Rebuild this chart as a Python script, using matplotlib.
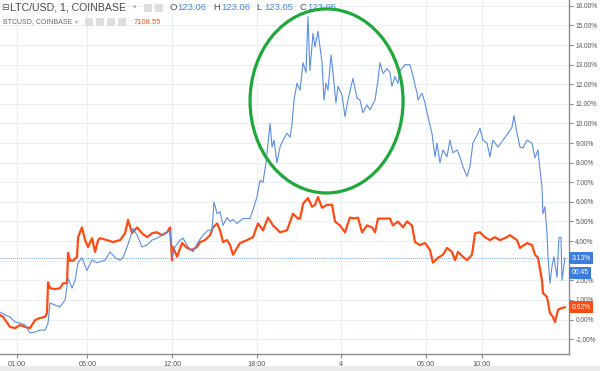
import matplotlib.pyplot as plt
from matplotlib.patches import Ellipse, Rectangle, FancyBboxPatch

# LTC/USD (blue) - % change vs. hours since midnight of day 3
ltc_hours = [
    -0.21, 0.15, 0.50, 0.86, 1.21, 1.57, 1.92, 2.28, 2.63, 2.99,
    3.20, 3.34, 3.70, 4.05, 4.41, 4.62, 4.90, 5.12, 5.33, 5.61,
    5.96, 6.32, 6.68, 6.89, 7.25, 7.60, 7.96, 8.31, 8.52, 8.81,
    9.02, 9.23, 9.52, 9.87, 10.23, 10.58, 10.94, 11.29, 11.65, 11.86,
    12.00, 12.21, 12.57, 12.78, 13.14, 13.49, 13.85, 14.20, 14.55, 14.84,
    14.98, 15.20, 15.41, 15.62, 15.90, 16.12, 16.33, 16.61, 17.04, 17.54,
    17.75, 18.03, 18.25, 18.46, 18.67, 18.89, 18.96, 19.10, 19.24, 19.45,
    19.67, 19.88, 20.16, 20.38, 20.52, 20.66, 20.87, 21.09, 21.30, 21.51,
    21.65, 21.79, 22.01, 22.15, 22.36, 22.65, 22.79, 22.93, 23.07, 23.29,
    23.43, 23.64, 23.78, 24.07, 24.28, 24.49, 24.84, 25.13, 25.34, 25.55,
    25.84, 26.05, 26.41, 26.62, 26.76, 26.98, 27.26, 27.47, 27.61, 27.82,
    28.04, 28.18, 28.54, 28.89, 29.11, 29.39, 29.46, 29.74, 29.96, 30.17,
    30.45, 30.67, 30.81, 31.02, 31.23, 31.52, 31.73, 31.94, 32.23, 32.44,
    32.65, 32.94, 33.15, 33.36, 33.65, 33.86, 34.07, 34.36, 34.57, 34.78,
    35.14, 35.49, 35.85, 36.13, 36.27, 36.49, 36.70, 36.91, 37.20, 37.55,
    37.77, 37.98, 38.12, 38.26, 38.33, 38.47, 38.62, 38.69, 38.83, 38.97,
    39.11, 39.33, 39.47, 39.61, 39.68, 39.89,
]
ltc_pct = [
    0.38, 0.23, 0.13, -0.13, -0.18, -0.28, -0.69, -0.64, -0.54, -0.54,
    -0.18, 0.84, 0.74, 0.64, 1.0, 2.1, 1.6, 2.0, 2.9, 3.15,
    2.5, 3.03, 2.9, 2.95, 3.03, 3.45, 3.15, 3.03, 3.15, 3.7,
    4.15, 4.65, 4.3, 3.7, 3.8, 4.05, 4.15, 4.3, 4.45, 4.55,
    3.2, 3.7, 4.05, 4.15, 3.7, 3.45, 3.95, 4.3, 4.55, 4.55,
    6.0, 5.4, 5.5, 4.8, 5.2, 5.0, 5.1, 4.9, 5.15, 5.15,
    5.6, 6.25, 7.1, 7.0, 8.0, 9.5, 10.0, 8.8, 9.15, 8.0,
    8.8, 9.15, 9.5, 9.3, 10.0, 11.2, 12.05, 11.7, 13.1, 12.6,
    15.45, 12.7, 14.6, 13.9, 14.7, 13.1, 11.2, 12.05, 11.7, 13.5,
    12.55, 11.05, 11.9, 11.45, 10.35, 11.2, 12.3, 11.3, 11.2, 10.55,
    10.95, 10.7, 11.2, 12.2, 13.1, 12.55, 12.8, 12.6, 11.9, 12.4,
    12.05, 12.7, 13.0, 13.0, 12.4, 11.55, 11.2, 11.55, 11.05, 10.35,
    9.5, 8.3, 9.0, 8.0, 8.65, 8.3, 9.15, 8.5, 8.65, 8.3,
    7.8, 7.3, 7.8, 9.0, 9.4, 9.75, 9.15, 9.0, 8.3, 9.15,
    8.8, 9.15, 9.5, 9.8, 10.4, 9.5, 8.8, 8.75, 9.15, 9.0,
    8.25, 8.65, 7.65, 6.8, 5.4, 5.75, 4.4, 3.2, 1.85, 2.7,
    3.2, 2.15, 4.2, 4.2, 2.0, 3.13,
]

# BTCUSD (red) - % change
btc_hours = [
    -0.21, 0.01, 0.50, 0.86, 1.21, 1.57, 1.92, 2.28, 2.63, 2.99,
    3.13, 3.20, 3.34, 3.70, 4.05, 4.27, 4.55, 4.62, 4.76, 4.98,
    5.26, 5.33, 5.61, 5.83, 6.04, 6.32, 6.54, 6.75, 6.89, 7.39,
    7.81, 8.31, 8.67, 8.88, 9.16, 9.52, 9.87, 10.23, 10.58, 10.94,
    11.29, 11.65, 11.86, 12.00, 12.07, 12.36, 12.71, 13.07, 13.42, 13.78,
    13.99, 14.34, 14.70, 14.91, 15.20, 15.41, 15.62, 15.90, 16.12, 16.33,
    16.61, 16.83, 17.32, 17.75, 18.10, 18.46, 18.81, 19.17, 19.67, 20.16,
    20.59, 20.94, 21.09, 21.30, 21.65, 21.94, 22.15, 22.36, 22.65, 23.00,
    23.36, 23.57, 23.92, 24.28, 24.63, 24.99, 25.20, 25.49, 25.84, 26.20,
    26.41, 26.62, 27.12, 27.47, 27.68, 28.04, 28.39, 28.68, 29.03, 29.25,
    29.60, 29.96, 30.31, 30.52, 30.88, 31.23, 31.52, 31.87, 32.09, 32.30,
    32.65, 32.94, 33.29, 33.51, 33.86, 34.21, 34.57, 34.92, 35.28, 35.63,
    35.99, 36.49, 36.70, 37.20, 37.55, 37.77, 37.98, 38.26, 38.33, 38.62,
    38.83, 39.04, 39.18, 39.40, 39.68, 39.89,
]
btc_pct = [
    0.23, 0.13, -0.38, -0.44, -0.28, -0.38, -0.44, -0.03, 0.08, 0.13,
    0.33, 1.9, 1.6, 1.55, 1.6, 1.85, 1.85, 3.4, 3.0, 3.0,
    3.2, 4.2, 4.7, 4.05, 3.7, 4.15, 3.45, 4.05, 4.15, 4.05,
    3.95, 4.05, 4.4, 5.08, 4.4, 4.7, 4.4, 4.2, 4.4, 4.45,
    4.3, 4.45, 4.7, 3.03, 3.7, 3.2, 3.9, 3.65, 3.55, 3.7,
    3.95, 4.05, 4.3, 4.7, 4.9, 4.55, 3.95, 4.05, 3.8, 3.3,
    3.65, 3.9, 4.05, 4.2, 4.9, 4.55, 5.2, 4.8, 4.45, 4.55,
    5.4, 5.15, 5.15, 5.9, 6.2, 5.75, 5.85, 6.25, 5.7, 5.85,
    5.85, 5.0, 4.8, 4.45, 5.2, 5.15, 5.2, 4.45, 4.8, 4.7,
    4.45, 5.15, 5.15, 5.15, 4.8, 5.0, 4.7, 5.0, 4.8, 3.95,
    3.8, 3.9, 3.55, 2.9, 3.15, 3.3, 3.65, 3.45, 3.03, 3.45,
    3.2, 3.03, 3.3, 4.4, 4.45, 4.2, 4.05, 4.2, 4.05, 4.15,
    4.3, 4.05, 3.65, 3.9, 3.8, 3.3, 3.15, 2.0, 1.35, 1.15,
    0.33, 0.13, -0.13, 0.5, 0.59, 0.62,
]

tick_hours = [1, 6, 12, 18, 24, 30, 34]
tick_labels = ["01:00", "06:00", "12:00", "18:00", "4", "06:00", "10:00"]
pct_ticks = list(range(-1, 17))
ltc_last = 3.13
btc_last = 0.62

BLUE = "#5a8de4"
RED = "#ff4a12"
FONT = ["Liberation Sans", "DejaVu Sans"]
plt.rcParams["font.family"] = FONT

fig = plt.figure(figsize=(6, 3.71), dpi=100)
ax = fig.add_axes([0, 1 - 354 / 371, 569 / 600, 354 / 371])

# grid
for h in tick_hours:
    ax.axvline(h, color="#eaeff5", lw=0.8, zorder=0)
for p in pct_ticks:
    ax.axhline(p, color="#eaeff5", lw=0.8, zorder=0)

# series
ax.plot(btc_hours, btc_pct, color=RED, lw=1.6, zorder=2)
ax.plot(ltc_hours, ltc_pct, color=BLUE, lw=0.8, zorder=3)
ax.axhline(ltc_last, color="#4a7fd9", lw=0.6, ls=(0, (1, 1.5)), zorder=1)

# green circle annotation
ax.add_patch(Ellipse((22.97, 11.15), 10.86, 9.39, fill=False,
                     edgecolor="#1fa83a", lw=2.3, zorder=6))

ax.set_xlim(-0.21, 40.18)
ax.set_ylim(-1.76, 16.30)

ax.set_xticks(tick_hours)
ax.set_xticklabels(tick_labels)
ax.set_yticks(pct_ticks)
# the 3.00% label sits under the last-price box, as on the reference
ax.set_yticklabels(["" if p == 3 else "%.2f%%" % p for p in pct_ticks])
ax.yaxis.tick_right()
ax.tick_params(axis="both", colors="#8c8c8c", labelcolor="#555555",
               length=3, width=0.8, pad=1.5)
ax.tick_params(axis="y", labelsize=4.7)
ax.tick_params(axis="x", labelsize=5.2, pad=2)

for side in ["top", "left"]:
    ax.spines[side].set_visible(False)
for side in ["right", "bottom"]:
    ax.spines[side].set_color("#8c8c8c")
    ax.spines[side].set_linewidth(1)

# last value labels on the price scale
box = dict(xycoords=("axes fraction", "data"), textcoords="offset points",
           va="center", ha="left", fontsize=4.9, color="white", annotation_clip=False)
ax.annotate("%.2f%%" % ltc_last, xy=(1, ltc_last), xytext=(2, 0),
            bbox=dict(boxstyle="square,pad=0.35", fc="#3f7ddc", ec="none"), zorder=7, **box)
ax.annotate("00:45", xy=(1, ltc_last), xytext=(2, -10.5),
            bbox=dict(boxstyle="square,pad=0.35", fc="#3f7ddc", ec="none"), zorder=7, **box)
ax.annotate("%.2f%%" % btc_last, xy=(1, btc_last), xytext=(2, 0),
            bbox=dict(boxstyle="square,pad=0.35", fc=RED, ec="none"), zorder=7, **box)

# header legend
tf = fig.transFigure
def fx(px):
    return px / 600
def fy(py):
    return 1 - py / 371

ax.text(fx(1), fy(8), "⊟", transform=tf, fontsize=6.5, color="#555555", va="center", family=FONT)
ax.text(fx(10), fy(8), "LTC/USD, 1, COINBASE", transform=tf, fontsize=7.6,
        color="#4a4a4a", va="center")
ax.text(fx(133), fy(8), "▾", transform=tf, fontsize=5, color="#aaaaaa", va="center", family=FONT)
ohlc = [("O", "123.06", 169), ("H", "123.06", 213), ("L", "123.05", 256), ("C", "123.05", 299)]
for k, v, px in ohlc:
    ax.text(fx(px), fy(8), k, transform=tf, fontsize=6.8, color="#555555", va="center")
    ax.text(fx(px + 8), fy(8), v, transform=tf, fontsize=6.8, color="#4c84e0", va="center")

ax.text(fx(3), fy(22), "BTCUSD, COINBASE", transform=tf, fontsize=5.0,
        color="#666666", va="center")
ax.text(fx(75), fy(22), "▾", transform=tf, fontsize=4.5, color="#aaaaaa", va="center", family=FONT)
ax.text(fx(134), fy(22), "7108.55", transform=tf, fontsize=5.5, color=RED, va="center")

for px, py, n in [(144, 4, 2), (85, 18, 4)]:
    for i in range(n):
        fig.patches.append(FancyBboxPatch((fx(px + i * 11), fy(py + 8)), 8 / 600, 8 / 371,
                                          boxstyle="round,pad=0,rounding_size=0.002",
                                          transform=tf, fc="#dedede", ec="none"))

# bottom scroll strip
fig.patches.append(Rectangle((0, 0), 1, 5 / 371, transform=tf, fc="#ebebeb", ec="none"))

fig.savefig("out.png", dpi=100, facecolor="white")
